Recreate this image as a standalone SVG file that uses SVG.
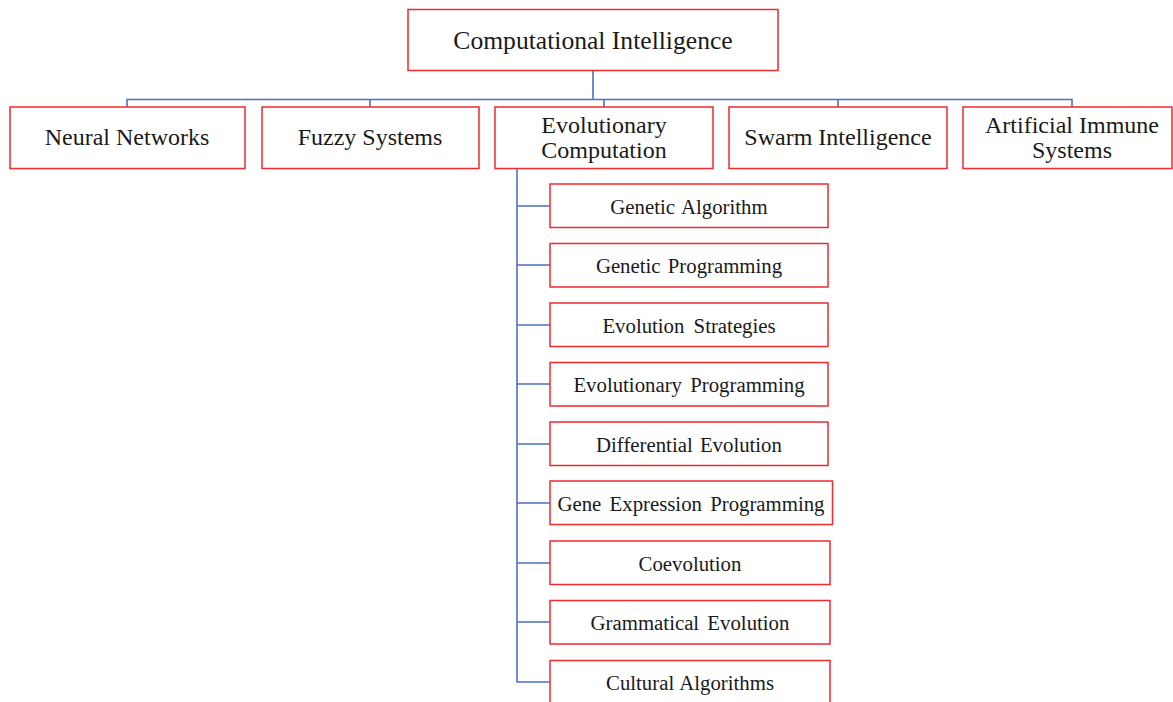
<svg xmlns="http://www.w3.org/2000/svg" width="1173" height="702" viewBox="0 0 1173 702">
<style>
.box{fill:#fff;stroke:#ee2a2f;stroke-width:1.5}
.conn{fill:none;stroke:#4a72c0;stroke-width:1.6}
text{font-family:"Liberation Serif","Times New Roman",serif;fill:#1a1a1a;text-anchor:middle;dominant-baseline:central}
.t1{font-size:25.6px}
.t2{font-size:24px}
.t3{font-size:20.8px}
</style>
<rect width="1173" height="702" fill="#fff"/>
<g id="connectors">
<path class="conn" d="M593 70.5V99.5M127 107V99.5H1072V107M370 99.5V107M604 99.5V107M838 99.5V107"/>
<path class="conn" d="M517 168V682H550M517 206H550M517 265H550M517 325H550M517 384H550M517 444H550M517 503H550M517 563H550M517 622H550"/>
</g>
<g id="n-root"><rect class="box" x="408" y="9.5" width="370" height="61"/><text class="t1" x="593" y="40">Computational Intelligence</text></g>
<g id="n-nn"><rect class="box" x="10" y="107" width="235" height="61.5"/><text class="t2" x="127" y="137">Neural Networks</text></g>
<g id="n-fs"><rect class="box" x="262" y="107" width="217" height="61.5"/><text class="t2" x="370" y="137">Fuzzy Systems</text></g>
<g id="n-ec"><rect class="box" x="495" y="107" width="218" height="61.5"/><text class="t2" x="604" y="125">Evolutionary</text><text class="t2" x="604" y="150">Computation</text></g>
<g id="n-si"><rect class="box" x="729" y="107" width="218" height="61.5"/><text class="t2" x="838" y="137">Swarm Intelligence</text></g>
<g id="n-ais"><rect class="box" x="963" y="107" width="209" height="61.5"/><text class="t2" x="1072" y="125">Artificial Immune</text><text class="t2" x="1072" y="150">Systems</text></g>
<g id="n-ga"><rect class="box" x="550" y="184" width="278" height="43.5"/><text class="t3" x="689" y="206" word-spacing="2">Genetic Algorithm</text></g>
<g id="n-gp"><rect class="box" x="550" y="243.5" width="278" height="43.5"/><text class="t3" x="689" y="265.5" word-spacing="2">Genetic Programming</text></g>
<g id="n-es"><rect class="box" x="550" y="303" width="278" height="43.5"/><text class="t3" x="689" y="325" word-spacing="4">Evolution Strategies</text></g>
<g id="n-ep"><rect class="box" x="550" y="362.5" width="278" height="43.5"/><text class="t3" x="689" y="384.5" word-spacing="3">Evolutionary Programming</text></g>
<g id="n-de"><rect class="box" x="550" y="422" width="278" height="43.5"/><text class="t3" x="689" y="444" word-spacing="2">Differential Evolution</text></g>
<g id="n-gep"><rect class="box" x="550" y="481" width="282.5" height="43.5"/><text class="t3" x="691" y="503" word-spacing="3">Gene Expression Programming</text></g>
<g id="n-co"><rect class="box" x="550" y="541" width="280" height="43.5"/><text class="t3" x="690" y="563">Coevolution</text></g>
<g id="n-gre"><rect class="box" x="550" y="600.5" width="280" height="43.5"/><text class="t3" x="690" y="622.5" word-spacing="3">Grammatical Evolution</text></g>
<g id="n-ca"><rect class="box" x="550" y="660.5" width="280" height="43.5"/><text class="t3" x="690" y="682.5" word-spacing="1">Cultural Algorithms</text></g>
</svg>
